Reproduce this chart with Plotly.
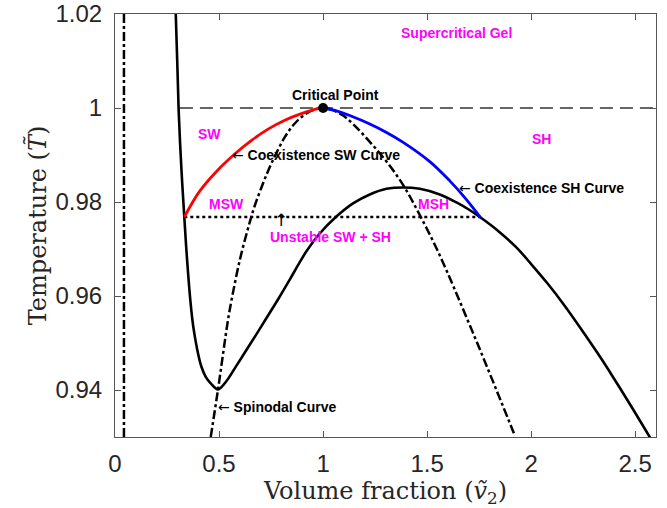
import plotly.graph_objects as go

# ---- data ----
# solid black curve
solid_x = [0.292, 0.299, 0.306, 0.318, 0.333, 0.346, 0.362, 0.372, 0.381, 0.398, 0.415, 0.436, 0.460,
           0.495, 0.525, 0.550, 0.577, 0.630, 0.680, 0.725, 0.784, 0.840, 0.888, 0.920, 0.984,
           1.064, 1.144, 1.2245, 1.305, 1.385, 1.465, 1.561, 1.641, 1.700, 1.757, 1.840, 1.930,
           2.000, 2.080, 2.160, 2.240, 2.320, 2.400, 2.480, 2.574]
solid_y = [1.020, 1.010, 0.9994, 0.9880, 0.9768, 0.9680, 0.9591, 0.9549, 0.9521, 0.9480, 0.9450, 0.9428, 0.9414,
           0.9401, 0.9413, 0.9428, 0.9447, 0.9484, 0.9519, 0.9551, 0.9593, 0.9635, 0.9672, 0.9695, 0.9733,
           0.9769, 0.9797, 0.9816, 0.9828, 0.9831, 0.9828, 0.9816, 0.9799, 0.9784, 0.9767, 0.9739, 0.9703,
           0.9668, 0.9626, 0.9580, 0.9530, 0.9478, 0.9423, 0.9366, 0.9297]

# spinodal (dash-dot) curve
spin_x = [0.460, 0.495, 0.543, 0.560, 0.600, 0.6476, 0.6716, 0.7038, 0.7356, 0.7678, 0.8159, 0.8639,
          0.9202, 0.976, 1.0, 1.032, 1.096, 1.144, 1.2245, 1.305, 1.385, 1.465, 1.553, 1.721, 1.917]
spin_y = [0.930, 0.9401, 0.9549, 0.9591, 0.9677, 0.9757, 0.9792, 0.9831, 0.9866, 0.9897, 0.9938, 0.9967,
          0.99885, 0.9999, 1.0, 0.9998, 0.9984, 0.9966, 0.9928, 0.9886, 0.9836, 0.9772, 0.9694, 0.9521, 0.9308]

# coexistence SW (red) curve
sw_x = [0.333, 0.407, 0.490, 0.5755, 0.656, 0.7356, 0.816, 0.896, 0.976, 1.0]
sw_y = [0.9768, 0.9823, 0.9866, 0.9902, 0.9931, 0.9955, 0.9974, 0.9988, 0.99985, 1.0]

# coexistence SH (blue) curve
sh_x = [1.0, 1.064, 1.128, 1.2245, 1.305, 1.385, 1.513, 1.609, 1.680, 1.757]
sh_y = [1.0, 0.9994, 0.9984, 0.9966, 0.9948, 0.9927, 0.9886, 0.9845, 0.9810, 0.9767]

# reference lines
tie_line_x = [0.333, 1.757]
tie_line_y = [0.9768, 0.9768]
crit_line_x = [0.312, 2.6]
crit_line_y = [1.0, 1.0]
vert_x = [0.043, 0.043]
vert_y = [0.93, 1.02]
crit_point = (1.0, 1.0)

x_ticks = [0, 0.5, 1, 1.5, 2, 2.5]
x_tick_labels = ["0", "0.5", "1", "1.5", "2", "2.5"]
y_ticks = [0.94, 0.96, 0.98, 1.0, 1.02]
y_tick_labels = ["0.94", "0.96", "0.98", "1", "1.02"]

ARROW = '<span style="font-family:DejaVu Sans;font-weight:normal">←</span>'

# text labels: (text, x, y, color, xanchor)
labels = [
    ("<b>Supercritical Gel</b>", 1.643, 1.0159, "#ff00ff", "center"),
    ("<b>Critical Point</b>", 1.062, 1.0028, "black", "center"),
    ("<b>SW</b>", 0.453, 0.9944, "#ff00ff", "center"),
    (ARROW + "<b> Coexistence SW Curve</b>", 0.555, 0.9899, "black", "left"),
    ("<b>SH</b>", 2.051, 0.9933, "#ff00ff", "center"),
    (ARROW + "<b> Coexistence SH Curve</b>", 1.642, 0.9830, "black", "left"),
    ("<b>MSW</b>", 0.535, 0.9796, "#ff00ff", "center"),
    ("<b>MSH</b>", 1.529, 0.9796, "#ff00ff", "center"),
    ("<b>Unstable SW + SH</b>", 1.036, 0.9725, "#ff00ff", "center"),
    (ARROW + "<b> Spinodal Curve</b>", 0.485, 0.9363, "black", "left"),
]
updown_label = ("↑", 0.797, 0.9762)

fig = go.Figure()

fig.add_trace(go.Scatter(x=vert_x, y=vert_y, mode="lines",
                         line=dict(color="black", width=2.5, dash="dashdot")))
fig.add_trace(go.Scatter(x=crit_line_x, y=crit_line_y, mode="lines",
                         line=dict(color="#333333", width=1.5, dash="13px,7px")))
fig.add_trace(go.Scatter(x=tie_line_x, y=tie_line_y, mode="lines",
                         line=dict(color="black", width=2.5, dash="dot")))
fig.add_trace(go.Scatter(x=spin_x, y=spin_y, mode="lines", line_shape="spline",
                         line=dict(color="black", width=2.5, dash="dashdot", smoothing=1)))
fig.add_trace(go.Scatter(x=solid_x, y=solid_y, mode="lines", line_shape="spline",
                         line=dict(color="black", width=2.6, smoothing=1)))
fig.add_trace(go.Scatter(x=sw_x, y=sw_y, mode="lines", line_shape="spline",
                         line=dict(color="red", width=2.8, smoothing=1)))
fig.add_trace(go.Scatter(x=sh_x, y=sh_y, mode="lines", line_shape="spline",
                         line=dict(color="blue", width=2.8, smoothing=1)))
fig.add_trace(go.Scatter(x=[crit_point[0]], y=[crit_point[1]], mode="markers",
                         marker=dict(color="black", size=10)))

for txt, x, y, col, xa in labels:
    fig.add_annotation(x=x, y=y, text=txt, showarrow=False,
                       xanchor=xa, yanchor="middle",
                       font=dict(family="Liberation Sans, Arial", size=14, color=col))

fig.add_annotation(x=updown_label[1], y=updown_label[2], text=updown_label[0], showarrow=False,
                   xanchor="center", yanchor="middle",
                   font=dict(family="DejaVu Sans", size=17, color="black"))

axis_common = dict(showline=True, linecolor="#555555", linewidth=1, mirror="ticks",
                   ticks="inside", ticklen=6, tickcolor="#555555", showgrid=False,
                   zeroline=False, automargin=False,
                   tickfont=dict(family="Liberation Sans, Arial", size=24, color="#262626"))

fig.update_layout(
    width=667, height=508,
    margin=dict(l=115, r=11, t=14, b=71),
    paper_bgcolor="white", plot_bgcolor="white",
    showlegend=False,
    xaxis=dict(range=[0, 2.6], tickvals=x_ticks, ticktext=x_tick_labels,
               ticklabelstandoff=5,
               title=dict(text="Volume fraction (<i>ṽ</i><sub>2</sub>)", standoff=4,
                          font=dict(family="DejaVu Serif", size=24, color="#262626")),
               **axis_common),
    yaxis=dict(range=[0.93, 1.02], tickvals=y_ticks, ticktext=y_tick_labels,
               ticklabelstandoff=7,
               title=dict(text="Temperature (<i>T\u0303</i>)", standoff=2,
                          font=dict(family="DejaVu Serif", size=24, color="#262626")),
               **axis_common),
)

fig.write_html("out.html")
